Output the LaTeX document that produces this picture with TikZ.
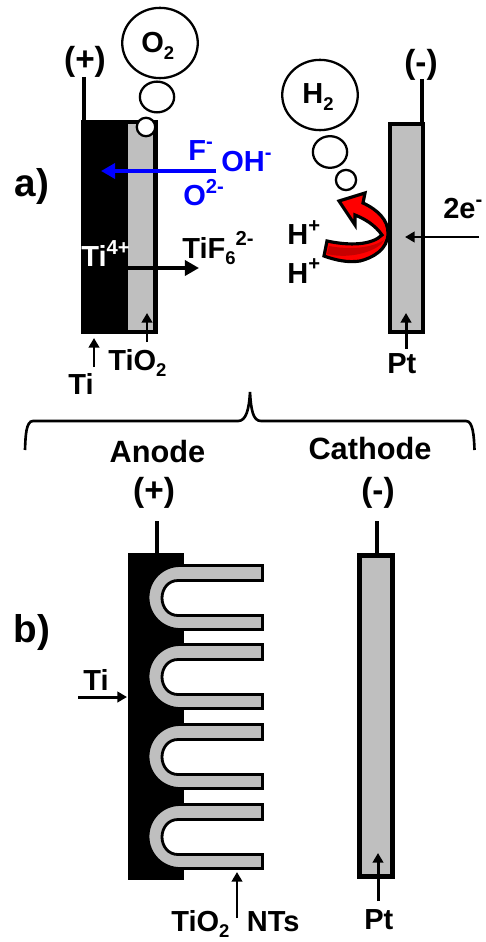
\documentclass[tikz,border=0pt]{standalone}
\usepackage{fontspec}
\setmainfont{Liberation Sans}
\usepackage{tkz-euclide}
\usetikzlibrary{arrows.meta,shapes.geometric}
\definecolor{MetalClr}{rgb}{0.75,0.75,0.75}
\definecolor{IonClr}{rgb}{0,0,1}
\definecolor{FlowClr}{rgb}{1,0,0}
\definecolor{FlowDkClr}{rgb}{0.78,0,0}
\newcommand{\SupTx}[1]{\raisebox{.42em}{\fontsize{11.5}{11.5}\selectfont #1}}
\newcommand{\SubTx}[1]{\raisebox{-.22em}{\fontsize{10.5}{10.5}\selectfont #1}}
\tikzset{
  lbl/.style={font=\fontsize{16.5}{16.5}\selectfont\bfseries,inner sep=0pt,anchor=base west},
  bigLbl/.style={font=\fontsize{17.5}{17.5}\selectfont\bfseries,inner sep=0pt,anchor=base},
  signLbl/.style={font=\fontsize{19}{19}\selectfont\bfseries,inner sep=0pt,anchor=base},
  panelLbl/.style={font=\fontsize{22}{22}\selectfont\bfseries,inner sep=0pt,anchor=base},
  bubble/.style={draw=black,line width=1.3pt,fill=white,ellipse,inner sep=0pt},
  electrode/.style={draw=black,line width=2.6pt,fill=MetalClr},
  wire/.style={line width=2.8pt},
  thinArrow/.style={line width=1.7pt,-{Triangle[length=5.5pt,width=6pt]}},
  thickArrow/.style={line width=2.8pt,-{Triangle[length=8pt,width=8.5pt]}},
}
\begin{document}
\begin{tikzpicture}[x=.02cm,y=-.02cm]
\useasboundingbox (0,0) rectangle (485,942);

\tkzDefPoints{84/77/Pa,84/120/Qa,422/79/Ra,422/122/Sa,
  157/521/Pb,157/553/Qb,377/521/Rb,377/553/Sb,
  216/171/Ba,101/171/Bb,128/268/Da,199/268/Db,
  479/237/Ea,405/237/Eb,94/367/Ta,94/338/Tb,
  147/342/Oa,147/313/Ob,406/349/Ga,406/313/Gb,
  78/697/Ua,127/697/Ub,237/918/Va,237/872/Vb,
  378/901/Wa,378/853/Wb}

% panel a
\fill[black] (81,120) rectangle (158,334);
\fill[MetalClr] (128,124) rectangle (153,330);
\draw[wire] (Pa) -- (Qa);
\draw[electrode] (390,124) rectangle (423,332);
\draw[wire] (Ra) -- (Sa);

\node[bubble,minimum width=43pt,minimum height=40pt] (bigO) at (160,43) {};
\node[bubble,minimum width=19.5pt,minimum height=17.5pt] (bubO) at (157,97) {};
\node[bubble,minimum width=10.5pt,minimum height=10.5pt] (dotO) at (146,127) {};
\node[lbl] (txtO) at (141,53) {O\SubTx{2}};

\node[bubble,minimum width=43pt,minimum height=40pt] (bigH) at (320,95) {};
\node[bubble,minimum width=19.5pt,minimum height=18pt] (bubH) at (330,152) {};
\node[bubble,minimum width=11.5pt,minimum height=11.5pt] (dotH) at (346,180) {};
\node[lbl] (txtH) at (302,104) {H\SubTx{2}};

\draw[thickArrow,IonClr] (Ba) -- (Bb);
\draw[thickArrow] (Da) -- (Db);
\draw[thinArrow] (Ea) -- (Eb);
\draw[thinArrow] (Ta) -- (Tb);
\draw[thinArrow] (Oa) -- (Ob);
\draw[thinArrow] (Ga) -- (Gb);

% red arrow
\draw[line width=1.8pt,line join=miter,fill=FlowClr]
  (327,241) .. controls (350,246) and (372,245) .. (382,235)
  .. controls (375,225) and (365,219) .. (355,215)
  -- (355,225) -- (339,201) -- (365,193) -- (363,203)
  .. controls (378,210) and (388,220) .. (388,233)
  .. controls (388,250) and (372,258) .. (360,261)
  .. controls (348,263) and (335,260) .. (324,256) -- cycle;
\fill[FlowDkClr] (329,246) .. controls (350,250) and (372,248) .. (384,240)
  .. controls (380,250) and (352,260) .. (327,254) -- cycle;

\node[lbl,IonClr] (txtF) at (188,161) {F\SupTx{-}};
\node[lbl,IonClr] (txtOH) at (221,172) {OH\SupTx{-}};
\node[lbl,IonClr] (txtOO) at (183,206) {O\SupTx{2-}};
\node[lbl,white] (txtTi4) at (81,267) {Ti\SupTx{4+}};
\node[lbl] (txtTiF) at (182,258) {TiF\SubTx{6}\SupTx{2-}};
\node[lbl] (txtHa) at (287,245) {H\SupTx{+}};
\node[lbl] (txtHb) at (287,283) {H\SupTx{+}};
\node[lbl] (txtE) at (443,219) {2e\SupTx{-}};
\node[lbl] (txtTi) at (68,394) {Ti};
\node[lbl] (txtTiO) at (108,370) {TiO\SubTx{2}};
\node[lbl] (txtPt) at (387,373) {Pt};
\node[signLbl] (plusA) at (85,71) {(+)};
\node[signLbl] (minusA) at (421,74) {(-)};
\node[panelLbl] (lblA) at (32,197) {a)};

% brace
\draw[line width=1.5pt] (25,450) .. controls (25.5,436) and (26,421) .. (33,421)
  -- (238,421) .. controls (246,421) and (249,410) .. (250,392)
  .. controls (251,410) and (253,421) .. (261,421)
  -- (466,421) .. controls (473,421) and (474,436) .. (474.5,450);
\node[bigLbl] (txtAn) at (157.5,462) {Anode};
\node[bigLbl] (txtCa) at (370,459) {Cathode};
\node[signLbl] (plusB) at (154,501) {(+)};
\node[signLbl] (minusB) at (378,501) {(-)};
\node[panelLbl] (lblB) at (32,642) {b)};

% panel b
\fill[black] (128,553) rectangle (184,880);
\draw[wire] (Pb) -- (Qb);
\draw[electrode] (359.5,555.5) rectangle (392.5,876.5);
\draw[wire] (Rb) -- (Sb);

\foreach \off in {0,79,159,239}{
  \begin{scope}[yshift=-\off*.02cm]
  \fill[white] (178,615.5) .. controls (168,615.5) and (162,607) .. (162,598)
    .. controls (162,589) and (168,580.5) .. (178,580.5) -- (190,580.5) -- (190,615.5) -- cycle;
  \draw[line width=1.6pt,fill=MetalClr]
    (262.5,565.5) -- (180,565.5) .. controls (162,565.5) and (148,580) .. (148,597.5)
    .. controls (148,615) and (162,629.5) .. (180,629.5)
    -- (262.5,629.5) -- (262.5,615.5) -- (178,615.5)
    .. controls (168,615.5) and (162,607) .. (162,598)
    .. controls (162,589) and (168,580.5) .. (178,580.5)
    -- (262.5,580.5) -- cycle;
  \end{scope}
}

\draw[thinArrow] (Ua) -- (Ub);
\draw[thinArrow] (Va) -- (Vb);
\draw[thinArrow] (Wa) -- (Wb);
\node[lbl] (txtTiB) at (83,690) {Ti};
\node[lbl] (txtNT) at (171,931) {TiO\SubTx{2}\hspace{10pt}NTs};
\node[lbl] (txtPtB) at (364,929) {Pt};
\end{tikzpicture}
\end{document}
